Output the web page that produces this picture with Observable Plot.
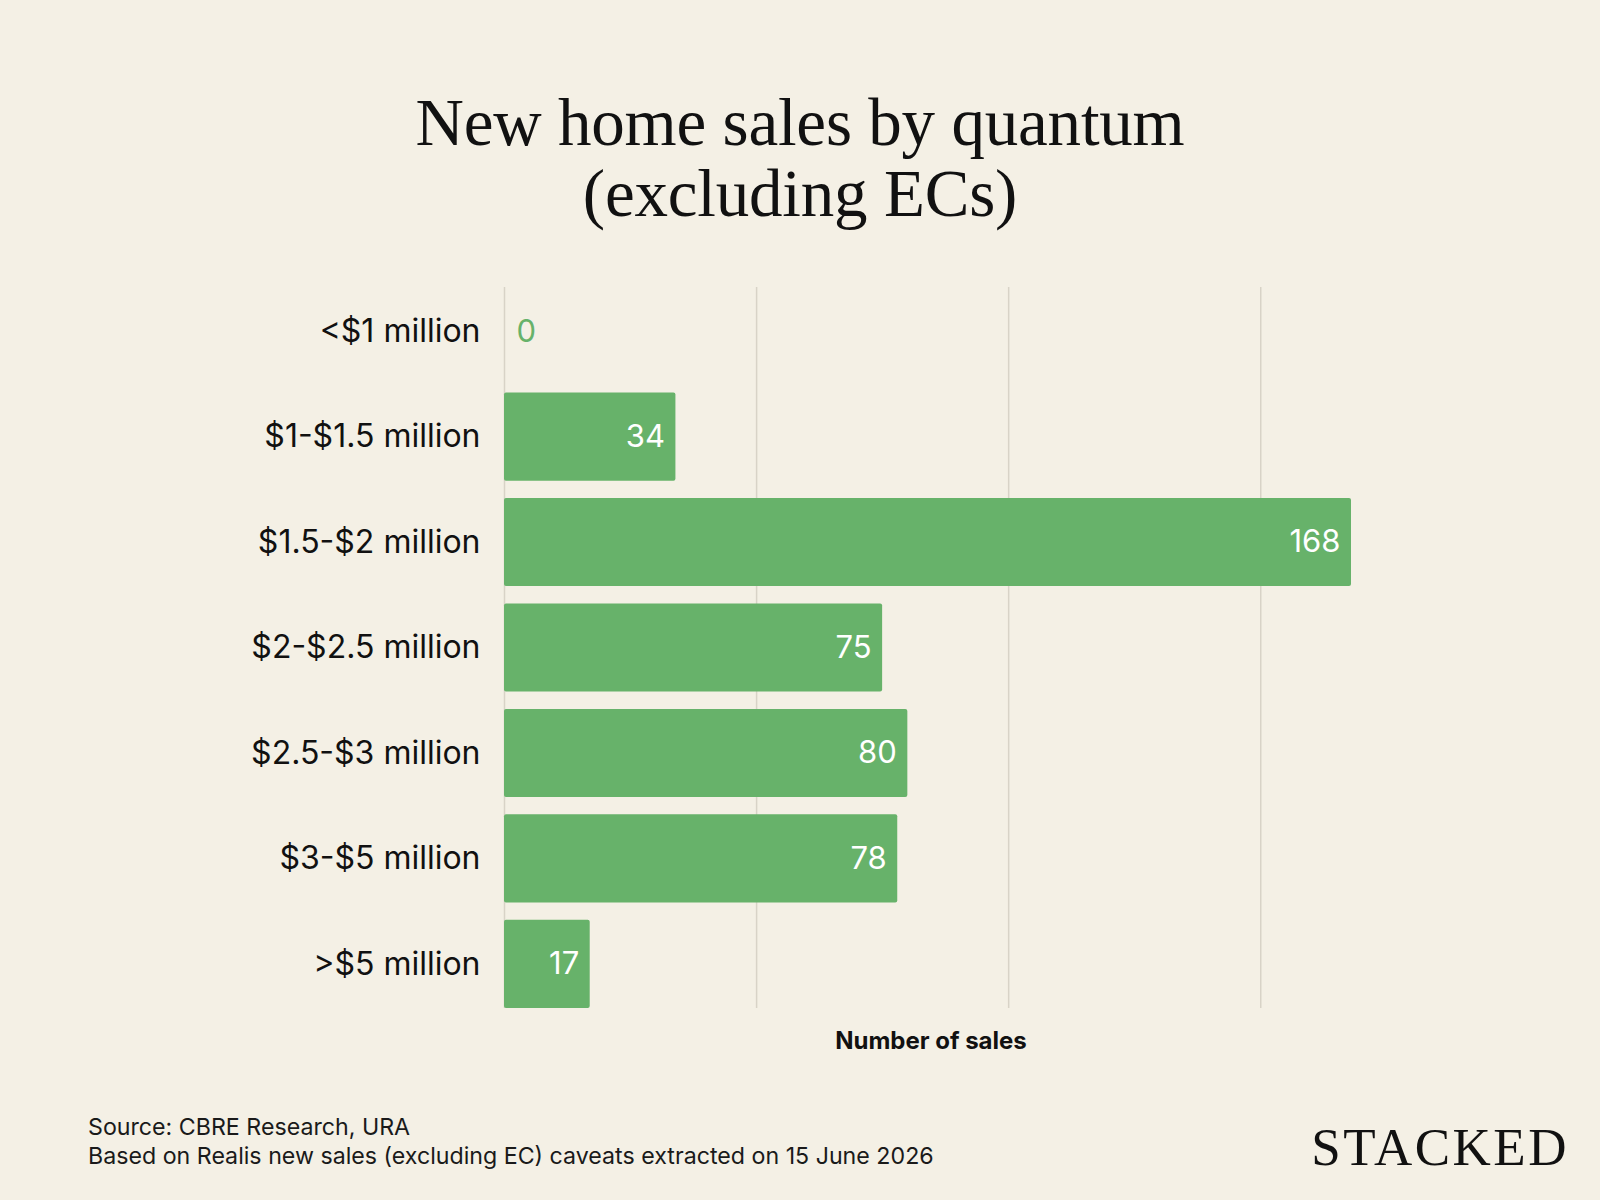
<!DOCTYPE html>
<html>
<head>
<meta charset="utf-8">
<script src="https://cdn.jsdelivr.net/npm/d3@7"></script>
<script src="https://cdn.jsdelivr.net/npm/@observablehq/plot@0.6"></script>
<style>
  html, body { margin: 0; padding: 0; background: #f4f0e5; }
  #page { position: relative; width: 1600px; height: 1200px; background: #f4f0e5; overflow: hidden; }
  #title { position: absolute; left: 0; width: 1600px; top: 87px; text-align: center;
           font-family: "Liberation Serif", serif; font-size: 67px; line-height: 71px; color: #111; letter-spacing: -0.2px; }
  #chart { position: absolute; left: 0; top: 0; }
  #footer { position: absolute; left: 88px; top: 1113px; font-family: Inter, sans-serif; font-size: 23.2px;
            line-height: 29px; color: #1a1a1a; }
  #logo { position: absolute; right: 31px; top: 1121px; font-family: "Liberation Serif", serif; font-size: 53px;
          line-height: 53px; letter-spacing: 2.5px; color: #111; }
</style>
</head>
<body>
<div id="page">
  <div id="title">New home sales by quantum<br>(excluding ECs)</div>
  <div id="chart"></div>
  <div id="footer">Source: CBRE Research, URA<br>Based on Realis new sales (excluding EC) caveats extracted on 15 June 2026</div>
  <div id="logo">STACKED</div>
</div>
<script>
const categories = ["<$1 million", "$1-$1.5 million", "$1.5-$2 million", "$2-$2.5 million", "$2.5-$3 million", "$3-$5 million", ">$5 million"];
const sales = [0, 34, 168, 75, 80, 78, 17];
const gridTicks = [0, 50, 100, 150];
const xLabel = "Number of sales";

const data = categories.map((c, i) => ({cat: c, value: sales[i]}));
const green = "#67b26a";

const chart = Plot.plot({
  width: 1600,
  height: 1070,
  marginTop: 287,
  marginBottom: 62,
  marginLeft: 504,
  marginRight: 249,
  style: {fontFamily: "Inter, sans-serif", fontSize: "32px", background: "transparent", color: "#111"},
  x: {domain: [0, d3.max(sales)], axis: null},
  y: {domain: categories, paddingInner: 0.164, paddingOuter: 0, round: false, label: null},
  marks: [
    Plot.ruleX(gridTicks, {stroke: "#d8d3c7", strokeWidth: 1.5}),
    Plot.barX(data, {y: "cat", x: "value", fill: green, rx: 2}),
    Plot.text(data.filter(d => d.value > 0), {y: "cat", x: "value", text: d => String(d.value),
      textAnchor: "end", dx: -11, fill: "white", fontSize: 31}),
    Plot.text(data.filter(d => d.value === 0), {y: "cat", x: "value", text: d => String(d.value),
      textAnchor: "start", dx: 12, fill: green, fontSize: 31}),
    Plot.axisY({tickSize: 0, tickPadding: 24, fontSize: 32, label: null}),
    Plot.text([xLabel], {frameAnchor: "bottom", dy: 40, dx: 3, fontWeight: "bold", fontSize: 24, fill: "#111"})
  ]
});
document.getElementById("chart").appendChild(chart);
</script>
</body>
</html>
